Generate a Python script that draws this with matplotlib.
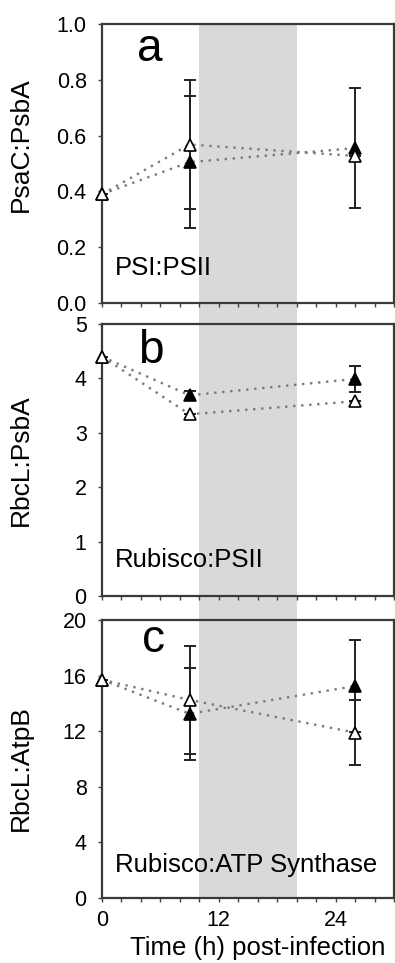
# Три панели: соотношения белков после заражения
import matplotlib
matplotlib.use('Agg')
import matplotlib.pyplot as plt
import matplotlib.transforms as mtransforms
from matplotlib.patches import Rectangle
from matplotlib.ticker import MultipleLocator, FormatStrFormatter

plt.rcParams['font.family'] = ['Liberation Sans', 'DejaVu Sans']

# Блок данных
t = [0, 9, 26]

a_filled = [0.39, 0.505, 0.555]
a_filled_err = [0, 0.236, 0.215]
a_open = [0.39, 0.568, 0.527]
a_open_err = [0, 0.23, 0]

b_filled = [4.4, 3.69, 3.99]
b_filled_err = [0, 0.08, 0.235]
b_open = [4.4, 3.34, 3.58]
b_open_err = [0, 0, 0]

c_filled = [15.7, 13.25, 15.25]
c_filled_err = [0, 3.31, 3.34]
c_open = [15.7, 14.25, 11.9]
c_open_err = [0, 3.88, 2.33]

shade = (10, 20)
panel_letters = ['a', 'b', 'c']
ylabels = ['PsaC:PsbA', 'RbcL:PsbA', 'RbcL:AtpB']
notes = ['PSI:PSII', 'Rubisco:PSII', 'Rubisco:ATP Synthase']
ylims = [(0, 1.0), (0, 5), (0, 20)]
ysteps = [0.2, 1, 4]

W, H = 395, 963
fig = plt.figure(figsize=(W / 100, H / 100), dpi=100)

# положение панелей в пикселях: (верх, низ)
boxes = [(24, 303), (324, 596), (620, 898)]
left, right = 102, 394
axes = []
for top, bot in boxes:
    ax = fig.add_axes([left / W, 1 - bot / H, (right - left) / W, (bot - top) / H])
    ax.set_facecolor('none')
    axes.append(ax)

series = [
    (a_filled, a_filled_err, a_open, a_open_err),
    (b_filled, b_filled_err, b_open, b_open_err),
    (c_filled, c_filled_err, c_open, c_open_err),
]
label_y = [0.566, 0.5, 0.468]

for i, ax in enumerate(axes):
    f, fe, o, oe = series[i]
    ax.plot(t, f, color='#7a7a7a', linestyle=(0, (1, 2.4)), lw=1.7, zorder=2)
    ax.plot(t, o, color='#7a7a7a', linestyle=(0, (1, 2.4)), lw=1.7, zorder=2)
    ax.errorbar(t, f, yerr=fe, fmt='none', ecolor='#222222', elinewidth=1.4,
                capsize=4.3, capthick=1.4, zorder=3)
    ax.errorbar(t, o, yerr=oe, fmt='none', ecolor='#222222', elinewidth=1.4,
                capsize=4.3, capthick=1.4, zorder=3)
    ax.plot(t, f, linestyle='none', marker='^', ms=8.7, mfc='black', mec='black',
            mew=1.2, zorder=4, clip_on=False)
    ax.plot(t, o, linestyle='none', marker='^', ms=8.7, mfc='white', mec='black',
            mew=1.2, zorder=5, clip_on=False)

    ax.set_xlim(0, 30)
    ax.set_ylim(*ylims[i])
    ax.xaxis.set_major_locator(MultipleLocator(12))
    ax.xaxis.set_minor_locator(MultipleLocator(2))
    ax.yaxis.set_major_locator(MultipleLocator(ysteps[i]))
    if i == 0:
        ax.yaxis.set_major_formatter(FormatStrFormatter('%.1f'))
    ax.tick_params(axis='both', which='both', direction='out', length=3,
                   width=1, color='#444444', labelsize=15.5, pad=8)
    ax.tick_params(axis='x', pad=6)
    if i < 2:
        ax.tick_params(axis='x', labelbottom=False)
    for sp in ax.spines.values():
        sp.set_color('#3a3a3a')
        sp.set_linewidth(1.6)

    ax.set_ylabel(ylabels[i], fontsize=19)
    ax.yaxis.set_label_coords(-0.236, label_y[i])

# буквы панелей и подписи
letter_pos = [(137, 61), (138, 363), (142, 652)]
for (x, y), s in zip(letter_pos, panel_letters):
    fig.text(x / W, 1 - y / H, s, fontsize=33, va='baseline', ha='left')
note_pos = [(115, 275), (115, 567), (115, 872)]
for (x, y), s in zip(note_pos, notes):
    fig.text(x / W, 1 - y / H, s, fontsize=18.5, va='baseline', ha='left')

fig.text(258 / W, 1 - 955 / H, 'Time (h) post-infection', fontsize=18.5,
         va='baseline', ha='center')

# серая полоса через все панели
trans = mtransforms.blended_transform_factory(axes[2].transData, fig.transFigure)
y0 = 1 - boxes[2][1] / H
y1 = 1 - boxes[0][0] / H
fig.add_artist(Rectangle((shade[0], y0), shade[1] - shade[0], y1 - y0,
                         transform=trans, facecolor='#d9d9d9', edgecolor='none',
                         zorder=-1))

fig.savefig('out.png', dpi=100)
